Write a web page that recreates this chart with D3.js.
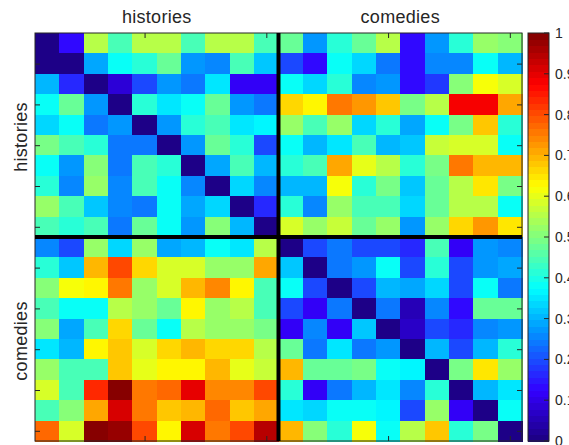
<!DOCTYPE html>
<html>
<head>
<meta charset="utf-8">
<script src="https://cdn.jsdelivr.net/npm/d3@7"></script>
<style>
  html, body { margin: 0; padding: 0; background: #fff; }
  svg { display: block; font-family: "Liberation Sans", Arial, sans-serif; }
</style>
</head>
<body>
<svg id="chart" width="569" height="445"></svg>
<script>
// Groups of plays along both axes (10 plays each)
const groups = ["histories", "comedies"];
const playsPerGroup = 10;

// Pairwise dissimilarity, rows 1-10: histories
const historyRows = [
  [0.00, 0.13, 0.55, 0.44, 0.55, 0.55, 0.44, 0.55, 0.55, 0.45,  0.47, 0.28, 0.41, 0.47, 0.56, 0.13, 0.28, 0.42, 0.53, 0.50],
  [0.01, 0.00, 0.29, 0.375,0.41, 0.47, 0.27, 0.26, 0.44, 0.32,  0.20, 0.125,0.375,0.33, 0.235,0.13, 0.26, 0.25, 0.375,0.30],
  [0.31, 0.17, 0.00, 0.09, 0.20, 0.275,0.235,0.345,0.11, 0.11,  0.375,0.33, 0.41, 0.26, 0.275,0.13, 0.18, 0.50, 0.61, 0.58],
  [0.375,0.47, 0.28, 0.00, 0.41, 0.35, 0.375,0.47, 0.275,0.235, 0.67, 0.625,0.75, 0.72, 0.68, 0.485,0.55, 0.875,0.875,0.71],
  [0.33, 0.375,0.24, 0.28, 0.00, 0.275,0.41, 0.45, 0.345,0.36,  0.52, 0.44, 0.52, 0.33, 0.42, 0.29, 0.375,0.485,0.68, 0.42],
  [0.485,0.44, 0.42, 0.24, 0.24, 0.00, 0.275,0.47, 0.41, 0.19,  0.375,0.30, 0.35, 0.45, 0.31, 0.32, 0.57, 0.59, 0.58, 0.375],
  [0.375,0.27, 0.50, 0.235,0.44, 0.41, 0.00, 0.29, 0.44, 0.31,  0.41, 0.44, 0.71, 0.60, 0.555,0.41, 0.485,0.765,0.69, 0.69],
  [0.41, 0.25, 0.53, 0.25, 0.45, 0.375,0.25, 0.00, 0.33, 0.26,  0.31, 0.31, 0.61, 0.41, 0.485,0.32, 0.47, 0.56, 0.65, 0.485],
  [0.53, 0.45, 0.32, 0.25, 0.235,0.375,0.29, 0.33, 0.00, 0.17,  0.42, 0.25, 0.52, 0.44, 0.44, 0.33, 0.47, 0.555,0.555,0.375],
  [0.45, 0.41, 0.45, 0.235,0.47, 0.39, 0.28, 0.50, 0.31, 0.00,  0.58, 0.52, 0.57, 0.47, 0.53, 0.27, 0.53, 0.67, 0.72, 0.65]
];

// Pairwise dissimilarity, rows 11-20: comedies
const comedyRows = [
  [0.25, 0.20, 0.53, 0.33, 0.52, 0.29, 0.31, 0.375,0.35, 0.55,  0.00, 0.20, 0.24, 0.19, 0.19, 0.16, 0.45, 0.12, 0.275,0.25],
  [0.42, 0.32, 0.70, 0.81, 0.67, 0.59, 0.59, 0.53, 0.53, 0.71,  0.32, 0.00, 0.235,0.28, 0.375,0.20, 0.41, 0.19, 0.275,0.29],
  [0.50, 0.61, 0.625,0.76, 0.53, 0.58, 0.70, 0.735,0.625,0.44,  0.375,0.19, 0.00, 0.19, 0.30, 0.29, 0.33, 0.20, 0.39, 0.235],
  [0.44, 0.375,0.39, 0.56, 0.53, 0.47, 0.625,0.53, 0.56, 0.44,  0.19, 0.11, 0.235,0.00, 0.235,0.06, 0.26, 0.13, 0.47, 0.47],
  [0.50, 0.29, 0.45, 0.67, 0.47, 0.385,0.56, 0.53, 0.52, 0.485, 0.12, 0.25, 0.11, 0.32, 0.00, 0.07, 0.20, 0.17, 0.26, 0.275],
  [0.35, 0.31, 0.625,0.68, 0.59, 0.67, 0.69, 0.67, 0.66, 0.55,  0.47, 0.235,0.345,0.235,0.275,0.00, 0.30, 0.19, 0.30, 0.42],
  [0.52, 0.45, 0.45, 0.68, 0.60, 0.625,0.625,0.69, 0.60, 0.57,  0.69, 0.47, 0.47, 0.485,0.375,0.36, 0.00, 0.485,0.65, 0.53],
  [0.59, 0.45, 0.84, 1.00, 0.765,0.78, 0.90, 0.735,0.735,0.81,  0.41, 0.11, 0.235,0.30, 0.35, 0.25, 0.42, 0.00, 0.30, 0.345],
  [0.45, 0.50, 0.71, 0.92, 0.75, 0.68, 0.70, 0.78, 0.68, 0.71,  0.345,0.33, 0.375,0.39, 0.36, 0.20, 0.53, 0.11, 0.00, 0.39],
  [0.78, 0.58, 1.00, 0.97, 0.81, 0.625,0.92, 0.76, 0.80, 0.94,  0.69, 0.50, 0.41, 0.61, 0.39, 0.55, 0.68, 0.42, 0.485,0.00]
];

// Axis ticks (label-less) and colour bar ticks
const rowTicks = [2, 4, 6, 8, 10, 12, 14, 16, 18, 20];
const colTicks = [5, 10, 15, 20];
const colorbarTicks = [0, 0.1, 0.2, 0.3, 0.4, 0.5, 0.6, 0.7, 0.8, 0.9, 1];

const matrix = historyRows.concat(comedyRows);
const n = matrix.length;

// "jet" colormap quantised to 64 levels, with the violet cast of the deep blues
const JET_LEVELS = 64;
function jet(v) {
  const clamp = t => Math.max(0, Math.min(1, t));
  const q = Math.min(JET_LEVELS - 1, Math.floor(v * JET_LEVELS));
  const t = (q + 0.5) / JET_LEVELS;
  let r = clamp(1.5 - Math.abs(4 * t - 3));
  const g = clamp(1.5 - Math.abs(4 * t - 2));
  const b = clamp(1.5 - Math.abs(4 * t - 1));
  // violet tint in the blue end, fading out before cyan
  const tint = t < 0.125 ? 0.11 + 0.09 * (t / 0.125) : clamp(0.2 * (1 - (t - 0.125) / 0.15));
  r = Math.min(1, r + tint);
  return d3.rgb(r * 255, g * 255, b * 255).toString();
}

const svg = d3.select("#chart");
const plot = { left: 35, top: 33, right: 522, bottom: 441 };

const x = d3.scaleBand().domain(d3.range(n)).range([plot.left, plot.right]).paddingInner(0);
const y = d3.scaleBand().domain(d3.range(n)).range([plot.top, plot.bottom]).paddingInner(0);
// Continuous index scales (1-based) used for tick placement
const xi = d3.scaleLinear().domain([0.5, n + 0.5]).range([plot.left, plot.right]);
const yi = d3.scaleLinear().domain([0.5, n + 0.5]).range([plot.top, plot.bottom]);

// Heatmap cells
const cells = [];
matrix.forEach((row, i) => row.forEach((v, j) => cells.push({ i, j, v })));
svg.append("g")
  .selectAll("rect")
  .data(cells)
  .join("rect")
  .attr("x", d => x(d.j))
  .attr("y", d => y(d.i))
  .attr("width", x.bandwidth() + 0.5)
  .attr("height", y.bandwidth() + 0.5)
  .attr("fill", d => jet(d.v))
  .attr("shape-rendering", "crispEdges");

// Inward ticks on all four sides
function styleAxis(g) {
  g.select(".domain").remove();
  g.selectAll(".tick line").attr("stroke", "#262626").attr("stroke-width", 1);
}
svg.append("g").attr("transform", `translate(${plot.left},0)`)
  .call(d3.axisLeft(yi).tickValues(rowTicks).tickSize(-5).tickFormat(""))
  .call(styleAxis);
svg.append("g").attr("transform", `translate(${plot.right},0)`)
  .call(d3.axisRight(yi).tickValues(rowTicks).tickSize(-5).tickFormat(""))
  .call(styleAxis);
svg.append("g").attr("transform", `translate(0,${plot.top})`)
  .call(d3.axisTop(xi).tickValues(colTicks).tickSize(-5).tickFormat(""))
  .call(styleAxis);
svg.append("g").attr("transform", `translate(0,${plot.bottom})`)
  .call(d3.axisBottom(xi).tickValues(colTicks).tickSize(-5).tickFormat(""))
  .call(styleAxis);

// Plot frame
svg.append("rect")
  .attr("x", plot.left).attr("y", plot.top)
  .attr("width", plot.right - plot.left).attr("height", plot.bottom - plot.top)
  .attr("fill", "none").attr("stroke", "#262626").attr("stroke-width", 1);

// Thick separators between the two genres
const split = playsPerGroup + 0.5;
svg.append("line")
  .attr("x1", xi(split)).attr("x2", xi(split))
  .attr("y1", plot.top).attr("y2", plot.bottom)
  .attr("stroke", "#000").attr("stroke-width", 4);
svg.append("line")
  .attr("x1", plot.left).attr("x2", plot.right)
  .attr("y1", yi(split)).attr("y2", yi(split))
  .attr("stroke", "#000").attr("stroke-width", 4);

// Group labels: top and left
groups.forEach((name, k) => {
  const mid = k * playsPerGroup + playsPerGroup / 2 + 0.5;
  svg.append("text")
    .attr("x", xi(mid)).attr("y", 23)
    .attr("text-anchor", "middle")
    .attr("font-size", 18).attr("letter-spacing", 0.3).attr("fill", "#262626")
    .text(name);
  svg.append("text")
    .attr("transform", `translate(27,${yi(mid) + 2}) rotate(-90)`)
    .attr("text-anchor", "middle")
    .attr("font-size", 18).attr("letter-spacing", 0.3).attr("fill", "#262626")
    .text(name);
});

// Colour bar
const cb = { left: 528, right: 549, top: plot.top, bottom: plot.bottom };
const cbScale = d3.scaleLinear().domain([0, 1]).range([cb.bottom, cb.top]);
const levels = d3.range(JET_LEVELS);
svg.append("g")
  .selectAll("rect")
  .data(levels)
  .join("rect")
  .attr("x", cb.left)
  .attr("width", cb.right - cb.left)
  .attr("y", k => cbScale((k + 1) / JET_LEVELS))
  .attr("height", k => cbScale(k / JET_LEVELS) - cbScale((k + 1) / JET_LEVELS) + 0.5)
  .attr("fill", k => jet((k + 0.5) / JET_LEVELS))
  .attr("shape-rendering", "crispEdges");
svg.append("rect")
  .attr("x", cb.left).attr("y", cb.top)
  .attr("width", cb.right - cb.left).attr("height", cb.bottom - cb.top)
  .attr("fill", "none").attr("stroke", "#262626").attr("stroke-width", 1);

const cbAxis = svg.append("g").attr("transform", `translate(${cb.right},0)`)
  .call(d3.axisRight(cbScale).tickValues(colorbarTicks).tickSize(0).tickPadding(6)
    .tickFormat(d => d === 0 || d === 1 ? String(d) : d3.format(".1f")(d)));
cbAxis.select(".domain").remove();
cbAxis.selectAll("text").attr("font-size", 14).attr("fill", "#262626")
  .attr("font-family", "'Liberation Sans', Arial, sans-serif");
// short inward tick marks on the colour bar
svg.append("g").selectAll("line")
  .data(colorbarTicks)
  .join("line")
  .attr("x1", cb.right - 5).attr("x2", cb.right)
  .attr("y1", d => cbScale(d)).attr("y2", d => cbScale(d))
  .attr("stroke", "#262626");
</script>
</body>
</html>
